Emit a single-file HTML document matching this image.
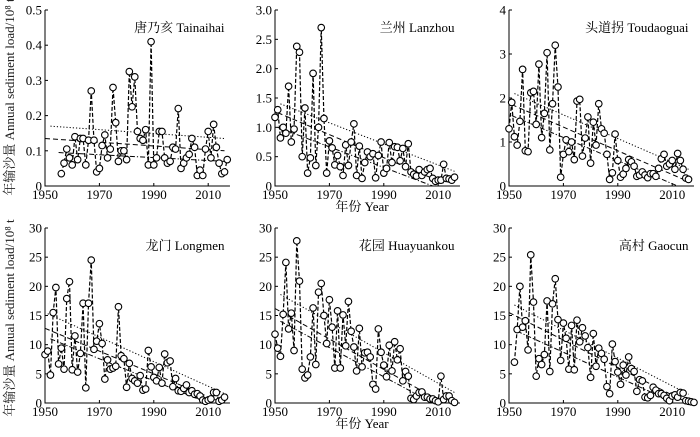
<!DOCTYPE html>
<html><head><meta charset="utf-8"><style>
body{margin:0;background:#fff;}
svg{display:block;font-family:"Liberation Serif","Noto Serif CJK SC",serif;}
</style></head><body>
<svg id="c" width="700" height="437" viewBox="0 0 700 437"></svg>
<script>
const tainaihaiValues=[.035,.065,.105,.08,.06,.14,.075,.135,.135,.06,.13,.27,.13,.04,.05,.115,.145,.08,.105,.28,.18,.07,.10,.10,.075,.325,.225,.31,.155,.135,.13,.16,.06,.41,.06,.08,.155,.155,.08,.065,.07,.11,.105,.22,.05,.065,.08,.09,.135,.11,.03,.045,.03,.105,.155,.08,.175,.11,.065,.035,.04,.075];
const lanzhouValues=[1.17,1.3,.82,1.0,.9,1.7,.75,.97,2.38,2.28,.5,1.33,.22,.48,1.92,.35,1.0,2.7,1.15,.22,.77,.65,.36,.52,.33,.18,.7,.35,.75,1.06,.18,.68,.13,.4,.58,.5,.55,.14,.52,.75,.22,.3,.74,.4,.67,.66,.43,.64,.33,.72,.24,.2,.17,.28,.18,.24,.28,.3,.13,.08,.1,.1,.37,.13,.12,.1,.15];
const toudaoguaiValues=[1.3,1.9,1.12,.93,1.47,2.65,.8,.78,2.12,2.15,1.4,2.77,1.1,1.65,3.03,.82,1.87,3.2,2.25,.2,.72,1.05,.78,1.0,.6,1.93,1.97,.68,1.09,1.57,.52,1.45,.93,1.87,1.3,1.2,.72,.15,.3,1.18,.58,.2,.27,.4,.6,.55,.45,.22,.25,.32,.25,.19,.28,.28,.22,.4,.62,.72,.45,.5,.58,.38,.74,.58,.38,.18,.15];
const longmenValues=[8.3,8.9,4.8,15.5,19.8,6.7,9.4,5.8,17.9,20.8,5.7,11.5,5.3,8.5,17.1,2.6,17.1,24.5,9.2,10.6,13.6,10.2,4.1,7.4,5.8,6.0,6.3,16.5,8.1,7.6,2.7,6.8,4.2,3.8,3.4,4.7,2.2,2.4,9.0,6.2,4.4,3.8,6.1,3.4,8.4,6.9,7.2,2.8,4.2,2.1,2.0,2.5,3.1,1.8,2.1,1.5,1.6,1.2,.5,.3,.5,.7,1.8,1.8,.3,.5,1.0];
const huayuankouValues=[11.8,9.4,8.0,15.2,24.1,12.7,15.4,9.0,27.8,20.9,5.8,4.3,4.8,7.9,16.3,6.6,19.0,20.5,15.0,10.2,17.7,13.0,6.0,15.8,6.0,15.1,9.8,17.4,12.3,9.6,5.5,12.8,6.2,8.6,8.7,7.9,3.2,2.4,12.7,8.7,6.5,4.5,9.9,5.5,10.5,7.4,9.3,3.8,5.4,4.6,.8,.6,1.2,1.8,1.9,1.0,1.0,.7,.7,.4,.2,4.6,.6,1.2,1.2,.4,.1];
const gaocunValues=[7.0,12.6,20.0,13.0,14.1,9.1,25.4,17.3,4.6,7.6,6.6,8.3,17.5,5.4,17.0,21.3,14.3,7.3,13.7,11.1,5.8,13.3,5.7,14.2,10.5,12.9,11.5,9.5,4.4,11.9,6.3,9.4,8.5,7.5,2.8,1.6,10.1,7.1,5.3,3.2,6.5,4.8,7.9,5.9,5.4,2.0,4.0,3.8,1.0,.9,1.3,2.7,2.2,1.6,1.6,1.3,.8,.4,1.2,1.4,1.0,1.8,1.7,.4,.3,.2,.1];
const startYears=[1956,1950,1950,1950,1950,1952];
const yMaxes=[0.5,3,4,30,30,30];
const yTickLabels=[["0","0.1","0.2","0.3","0.4","0.5"],["0","0.5","1.0","1.5","2.0","2.5","3.0"],["0","1","2","3","4"],["0","5","10","15","20","25","30"],["0","5","10","15","20","25","30"],["0","5","10","15","20","25","30"]];
const xTickYears=[1950,1970,1990,2010];
const stationNames=["唐乃亥 Tainaihai","兰州 Lanzhou","头道拐 Toudaoguai","龙门 Longmen","花园 Huayuankou","高村 Gaocun"];
// trend lines: [x0,y0,x1,y1] in data units: dotted, dashed, dash-dot
const trendDotted=[[1952,.17,2016,.135],[1952,1.4,2016,.25],[1952,2.1,2016,.38],[1951,15.3,2017,1.4],[1952,18.6,2016,1.8],[1952,16.8,2016,1.5]];
const trendDashed=[[1950,.135,2016,.10],[1951,1.25,2012,.05],[1951,1.85,2016,.1],[1950,12.8,2014,.3],[1950,16.2,2012,0],[1950,15.5,2015,.2]];
const trendDashDot=[[1955,.095,2016,.07],[1951,1.0,2008,0],[1951,1.6,2012,0],[1952,11,2010,0],[1952,14,2008,0],[1953,12.3,2011,0]];
const allValues=[tainaihaiValues,lanzhouValues,toudaoguaiValues,longmenValues,huayuankouValues,gaocunValues];

const NS="http://www.w3.org/2000/svg";
const svg=document.getElementById('c');
function mk(tag,attrs,parent){const e=document.createElementNS(NS,tag);for(const k in attrs)e.setAttribute(k,attrs[k]);(parent||svg).appendChild(e);return e;}
const axLeft=[45,275,509], rowTop=[10,228], rowBot=[186,403];
const pxPerYear=2.72;
for(let p=0;p<6;p++){
  const col=p%3,row=Math.floor(p/3);
  const x0=axLeft[col],yT=rowTop[row],yB=rowBot[row];
  const sx=yr=>x0+(yr-1950)*pxPerYear;
  const sy=v=>yB-(v/yMaxes[p])*(yB-yT);
  const g=mk('g',{});
  
  
  const ax=mk('path',{d:`M${x0},${yT} V${yB} H${sx(2018)}`,stroke:'#000','stroke-width':1,fill:'none'},g);
  
  
  yTickLabels[p].forEach((lab,i)=>{
    const v=i*yMaxes[p]/(yTickLabels[p].length-1);const y=sy(v);
    mk('line',{x1:x0,x2:x0+3,y1:y,y2:y,stroke:'#000'},g);
    const t=mk('text',{x:x0-3,y:y+4.5,'text-anchor':'end','font-size':13},g);t.textContent=lab;
    
    
  });
  xTickYears.forEach(yr=>{
    const x=sx(yr);mk('line',{x1:x,x2:x,y1:yB,y2:yB-3,stroke:'#000'},g);
    const t=mk('text',{x:x,y:yB+13,'text-anchor':'middle','font-size':13},g);t.textContent=yr;
    
    
  });
  const tn=mk('text',{x:sx(2016),y:yT+22,'text-anchor':'end','font-size':13},g);tn.textContent=stationNames[p];
  
  
  [[trendDotted,'1.2 2'],[trendDashed,'5 3'],[trendDashDot,'5 2 1.2 2']].forEach(([arr,da])=>{
    const t=arr[p];const l=mk('line',{x1:sx(t[0]),y1:sy(t[1]),x2:sx(t[2]),y2:sy(t[3]),stroke:'#000','stroke-width':1,'stroke-dasharray':da},g);
    
    
  });
  const vals=allValues[p];
  const pts=vals.map((v,i)=>[sx(startYears[p]+i),sy(v)]);
  const pl=mk('polyline',{points:pts.map(q=>q.join(',')).join(' '),fill:'none',stroke:'#000','stroke-width':1.2,'stroke-dasharray':'4 2'},g);
  
  
  pts.forEach(q=>{const c=mk('circle',{cx:q[0],cy:q[1],r:3.3,fill:'#fff',stroke:'#000','stroke-width':1.1},g);
    
    });
}
[[97],[318]].forEach(([cy])=>{
  const t=mk('text',{transform:`translate(14,${cy}) rotate(-90)`,'text-anchor':'middle','font-size':13,fill:'#222'});
  t.textContent='年输沙量 Annual sediment load/10⁸ t';
  
  
});
[211,428].forEach(y=>{
  const t=mk('text',{x:362,y:y,'text-anchor':'middle','font-size':13});t.textContent='年份 Year';
  
  
});
</script>
</body></html>
